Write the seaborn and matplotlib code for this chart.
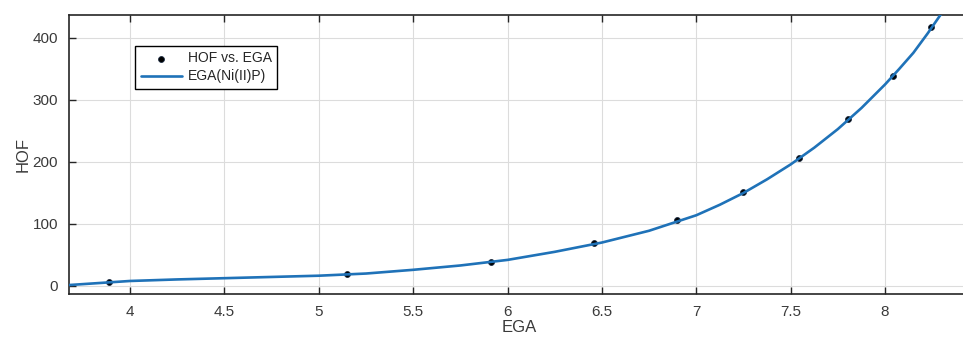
import matplotlib
matplotlib.use('Agg')
import matplotlib.pyplot as plt
import pandas as pd
import seaborn as sns

# measured points
ega_pts = [3.89, 5.15, 5.91, 6.46, 6.90, 7.25, 7.545, 7.805, 8.04, 8.245]
hof_pts = [6, 19, 39, 69, 106, 152, 206, 269, 339, 418]

# fitted curve
ega_fit = [3.60, 3.68, 4.0, 4.25, 4.5, 4.75, 5.0, 5.25, 5.5, 5.75, 6.0, 6.25, 6.5, 6.75,
           7.0, 7.125, 7.25, 7.375, 7.5, 7.625, 7.75, 7.875, 8.0, 8.075, 8.15, 8.225,
           8.3, 8.4]
hof_fit = [0, 1.5, 8, 10.5, 12.5, 14.5, 16.5, 20, 26, 33, 42, 55, 70, 89,
           114, 131, 150, 172, 196, 223, 253, 287, 325, 350, 376, 407,
           440, 485]

pts = pd.DataFrame({'EGA': ega_pts, 'HOF': hof_pts})
fit = pd.DataFrame({'EGA': ega_fit, 'HOF': hof_fit})

sns.set_style("whitegrid")
plt.rcParams['font.family'] = ['Liberation Sans', 'DejaVu Sans']

fig = plt.figure(figsize=(9.63, 3.43), dpi=100)
ax = fig.add_axes([69 / 963, 49 / 343, 901 / 963, 279 / 343])

sns.scatterplot(data=pts, x='EGA', y='HOF', ax=ax, color='black', s=18,
                edgecolor='#1a2a40', linewidth=0.6, label='HOF vs. EGA', zorder=3)
sns.lineplot(data=fit, x='EGA', y='HOF', ax=ax, color='#1f72b8', linewidth=1.9,
             label='EGA(Ni(II)P)', zorder=4)

ax.set_xlim(3.677, 8.45)
ax.set_ylim(-13, 437)
ax.set_xticks([4, 4.5, 5, 5.5, 6, 6.5, 7, 7.5, 8])
ax.set_xticklabels(['4', '4.5', '5', '5.5', '6', '6.5', '7', '7.5', '8'])
ax.set_yticks([0, 100, 200, 300, 400])

ax.grid(True, color='#dcdcdc', linewidth=0.8)
for s in ['left', 'bottom', 'top']:
    ax.spines[s].set_color('#262626')
    ax.spines[s].set_linewidth(1.2)
ax.spines['right'].set_visible(False)
ax.tick_params(direction='in', length=5, width=1, colors='#262626',
               labelcolor='#3a3a3a', labelsize=11, top=True, left=True, bottom=True, pad=8)

ax.set_xlabel('EGA', fontsize=12, color='#3a3a3a', labelpad=1)
ax.set_ylabel('HOF', fontsize=12, color='#3a3a3a', labelpad=1)

leg = ax.legend(loc='upper left', bbox_to_anchor=(66 / 901, 0.89), fontsize=10,
                frameon=True, fancybox=False, edgecolor='black', framealpha=1,
                borderpad=0.4, handlelength=3.0, handletextpad=0.4, labelspacing=0.3,
                borderaxespad=0)
leg.get_frame().set_linewidth(1.0)

fig.savefig('out.png', dpi=100)
